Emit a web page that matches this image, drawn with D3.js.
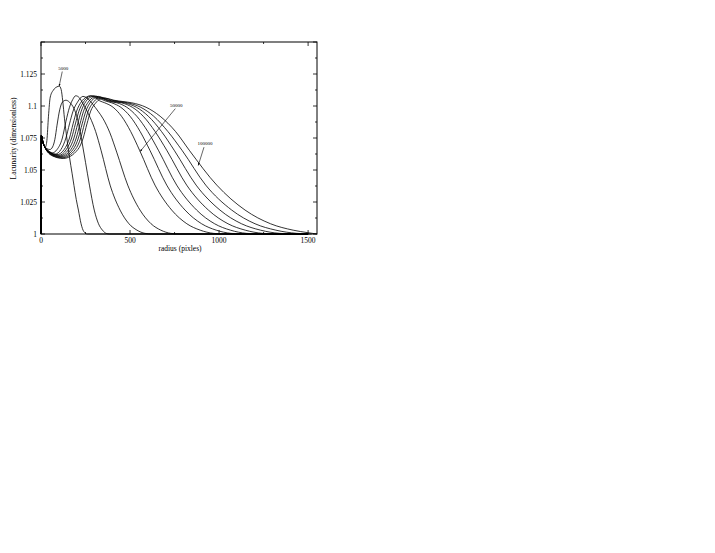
<!DOCTYPE html>
<meta charset="utf-8">
<style>
body { margin: 0; background: #fff; }
text { font-family: 'Liberation Serif', 'DejaVu Serif', serif; fill: #000; }
.curve { fill: none; stroke: #000; stroke-width: 0.8px; }
</style>
<body>
<svg width="715" height="553"></svg>
<script src="https://d3js.org/d3.v7.min.js"></script>
<script>

// lacunarity curves, [radius, lacunarity], one per sample size
var n5000 = [[0,1.0],[2,1.077],[10,1.072],[25,1.068],[33,1.073],[42,1.092],[52,1.107],[70,1.1125],[90,1.115],[103,1.1155],[113,1.113],[122,1.104],[132,1.090],[145,1.075],[160,1.060],[175,1.047],[185,1.038],[198,1.027],[210,1.0187],[225,1.008],[240,1.002],[260,1.0],[1500,1.0]];
var n10000 = [[0,1.0],[2,1.077],[12,1.071],[30,1.067],[50,1.066],[65,1.068],[78,1.074],[90,1.085],[105,1.097],[120,1.103],[140,1.1045],[160,1.103],[185,1.098],[205,1.090],[220,1.080],[235,1.068],[250,1.056],[272,1.0382],[299,1.0187],[323,1.008],[345,1.003],[366,1.0005],[385,1.0],[1500,1.0]];
var n20000 = [[0,1.0],[2,1.077],[12,1.071],[35,1.066],[65,1.0635],[90,1.066],[120,1.075],[140,1.088],[160,1.099],[178,1.105],[195,1.108],[215,1.1065],[235,1.102],[255,1.097],[276,1.091],[307,1.080],[338,1.065],[388,1.0382],[444,1.0187],[494,1.008],[539,1.003],[584,1.0005],[623,1.0],[1500,1.0]];
var n30000 = [[0,1.0],[2,1.077],[12,1.071],[40,1.065],[80,1.0625],[112,1.066],[140,1.075],[160,1.086],[180,1.096],[205,1.103],[235,1.1075],[265,1.1055],[290,1.1015],[320,1.096],[349,1.090],[387,1.079],[425,1.064],[487,1.0382],[556,1.0187],[618,1.008],[673,1.003],[729,1.0005],[777,1.0],[1500,1.0]];
var n50000 = [[0,1.0],[2,1.077],[12,1.071],[45,1.064],[90,1.062],[130,1.066],[160,1.075],[180,1.086],[200,1.096],[225,1.103],[255,1.107],[275,1.108],[300,1.107],[330,1.104],[358,1.1025],[405,1.099],[452,1.092],[504,1.080],[555,1.065],[640,1.0382],[734,1.0187],[819,1.008],[894,1.003],[969,1.0005],[1035,1.0],[1500,1.0]];
var n60000 = [[0,1.0],[2,1.077],[12,1.071],[50,1.0635],[100,1.0615],[142,1.066],[172,1.075],[193,1.086],[213,1.096],[238,1.103],[265,1.107],[290,1.108],[320,1.1065],[360,1.104],[397,1.1025],[448,1.099],[500,1.092],[557,1.080],[613,1.065],[706,1.0382],[809,1.0187],[902,1.008],[984,1.003],[1067,1.0005],[1139,1.0],[1500,1.0]];
var n70000 = [[0,1.0],[2,1.077],[12,1.071],[55,1.063],[105,1.061],[155,1.066],[185,1.075],[206,1.086],[226,1.096],[252,1.1035],[280,1.107],[305,1.1078],[340,1.106],[385,1.1035],[426,1.1025],[482,1.099],[538,1.092],[600,1.080],[661,1.065],[762,1.0382],[874,1.0187],[975,1.008],[1064,1.003],[1154,1.0005],[1232,1.0],[1500,1.0]];
var n80000 = [[0,1.0],[2,1.077],[12,1.071],[55,1.0625],[110,1.0605],[168,1.066],[198,1.075],[219,1.086],[239,1.096],[265,1.103],[295,1.1068],[322,1.1075],[355,1.1055],[400,1.1035],[452,1.1025],[513,1.099],[574,1.092],[641,1.080],[708,1.065],[818,1.0382],[940,1.0187],[1050,1.008],[1147,1.003],[1245,1.0005],[1330,1.0],[1500,1.0]];
var n90000 = [[0,1.0],[2,1.077],[12,1.071],[60,1.062],[115,1.060],[180,1.066],[210,1.075],[231,1.086],[252,1.096],[278,1.103],[308,1.1065],[335,1.107],[370,1.105],[420,1.1035],[469,1.1025],[536,1.099],[603,1.092],[677,1.080],[750,1.065],[871,1.0382],[1005,1.0187],[1126,1.008],[1233,1.003],[1340,1.0005],[1434,1.0],[1500,1.0]];
var n95000 = [[0,1.0],[2,1.077],[12,1.071],[60,1.0615],[120,1.0595],[193,1.066],[223,1.075],[244,1.086],[265,1.096],[292,1.1025],[320,1.106],[350,1.1065],[390,1.1048],[440,1.1035],[487,1.1025],[560,1.099],[633,1.092],[713,1.080],[794,1.065],[925,1.0382],[1071,1.0187],[1202,1.008],[1319,1.003],[1436,1.0005],[1520,1.0]];
var n100000 = [[0,1.0],[2,1.077],[12,1.071],[65,1.061],[125,1.059],[207,1.066],[237,1.075],[258,1.086],[279,1.096],[305,1.102],[335,1.1055],[365,1.106],[410,1.1045],[460,1.1035],[510,1.1025],[590,1.099],[669,1.092],[756,1.080],[835,1.065],[987,1.0382],[1146,1.0187],[1289,1.008],[1416,1.003],[1500,1.001],[1550,1.0]];

var series = [n5000, n10000, n20000, n30000, n50000, n60000, n70000, n80000, n90000, n95000, n100000];

var xTicks = [0, 500, 1000, 1500];
var yTicks = [1, 1.025, 1.05, 1.075, 1.1, 1.125];
var yTickLabels = ["1", "1.025", "1.05", "1.075", "1.1", "1.125"];

// annotations: label text, label position [r, L], arrow tip [r, L]
var notes = [
  {text: "5000",   at: [125, 1.1285], tip: [102, 1.1155]},
  {text: "50000",  at: [760, 1.0995], tip: [557, 1.0645]},
  {text: "100000", at: [921, 1.0694], tip: [883, 1.0535]}
];

var svg = d3.select("svg"),
    mLeft = 41, mRight = 317, mTop = 42, mBottom = 234;

var x = d3.scaleLinear().domain([0, 1550]).range([mLeft, mRight]),
    y = d3.scaleLinear().domain([1, 1.15]).range([mBottom, mTop]);

var line = d3.line()
    .x(d => x(d[0]))
    .y(d => y(d[1]))
    .curve(d3.curveMonotoneX);

svg.append("defs").append("marker")
    .attr("id", "arrow")
    .attr("viewBox", "0 0 10 10")
    .attr("refX", 10).attr("refY", 5)
    .attr("markerWidth", 4).attr("markerHeight", 4)
    .attr("orient", "auto")
  .append("path")
    .attr("d", "M0,1L10,5L0,9Z")
    .attr("fill", "#000");

svg.append("g").selectAll("path")
    .data(series)
    .enter().append("path")
    .attr("class", "curve")
    .attr("d", line);

// ticks inward on all four sides
var xMinor = d3.range(0, 1551, 250),
    yMinor = d3.range(0, 13).map(i => 1 + i * 0.0125);

function tickLine(x1, y1, x2, y2) {
  svg.append("line")
    .attr("x1", x1).attr("y1", y1).attr("x2", x2).attr("y2", y2)
    .attr("stroke", "#000").attr("stroke-width", 0.8);
}

xMinor.forEach(function(t) {
  var len = t % 500 === 0 ? 4 : 2;
  tickLine(x(t), mBottom, x(t), mBottom - len);
  tickLine(x(t), mTop, x(t), mTop + len);
});
yMinor.forEach(function(t, i) {
  var len = i % 2 === 0 ? 4 : 2;
  tickLine(mLeft, y(t), mLeft + len, y(t));
  tickLine(mRight, y(t), mRight - len, y(t));
});

svg.append("rect")
    .attr("x", mLeft).attr("y", mTop)
    .attr("width", mRight - mLeft).attr("height", mBottom - mTop)
    .attr("fill", "none").attr("stroke", "#000").attr("stroke-width", 1);

svg.append("g").selectAll("text")
    .data(xTicks)
    .enter().append("text")
    .attr("x", d => x(d))
    .attr("y", mBottom + 9)
    .attr("text-anchor", "middle")
    .attr("font-size", "7.5px")
    .text(d => d);

svg.append("g").selectAll("text")
    .data(yTicks)
    .enter().append("text")
    .attr("x", mLeft - 4)
    .attr("y", d => y(d) + 2.5)
    .attr("text-anchor", "end")
    .attr("font-size", "7.5px")
    .text((d, i) => yTickLabels[i]);

svg.append("text")
    .attr("x", 180)
    .attr("y", mBottom + 17)
    .attr("text-anchor", "middle")
    .attr("font-size", "7.5px")
    .text("radius (pixles)");

svg.append("text")
    .attr("transform", "translate(16," + ((mTop + mBottom) / 2 + 0.5) + ") rotate(-90)")
    .attr("text-anchor", "middle")
    .attr("font-size", "7.5px")
    .text("Lacunarity (dimensionless)");

var ann = svg.append("g").selectAll("g")
    .data(notes)
    .enter().append("g");

ann.append("text")
    .attr("x", d => x(d.at[0]))
    .attr("y", d => y(d.at[1]))
    .attr("text-anchor", "middle")
    .attr("font-size", "5px")
    .text(d => d.text);

ann.append("line")
    .attr("x1", d => x(d.at[0]) - 1)
    .attr("y1", d => y(d.at[1]) + 2)
    .attr("x2", d => x(d.tip[0]))
    .attr("y2", d => y(d.tip[1]))
    .attr("stroke", "#000")
    .attr("stroke-width", 0.6)
    .attr("marker-end", "url(#arrow)");

</script>
